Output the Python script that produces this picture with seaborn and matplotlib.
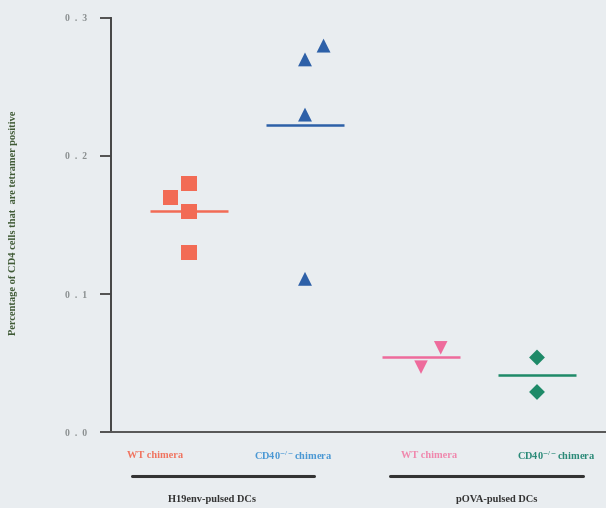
import numpy as np
import pandas as pd
import matplotlib
matplotlib.use("Agg")
import matplotlib.pyplot as plt
import seaborn as sns

# ---- data ----
conditions = ["WT chimera H19env", "CD40-/- chimera H19env", "WT chimera pOVA", "CD40-/- chimera pOVA"]
wt_h19 = [0.180, 0.170, 0.160, 0.130]
cd40_h19 = [0.280, 0.270, 0.230, 0.111]
wt_pova = [0.061, 0.047]
cd40_pova = [0.054, 0.029]
ytick_values = [0.0, 0.1, 0.2, 0.3]
ytick_labels = ["0  .  0", "0  .  1", "0  .  2", "0  .  3"]
cat_labels = ["WT chimera", r"CD40$^{-/-}$chimera", "WT chimera", r"CD40$^{-/-}$chimera"]
group_labels = ["H19env-pulsed DCs", "pOVA-pulsed DCs"]
ylabel = "Percentage of CD4 cells that  are tetramer positive"

# ---- layout / style ----
values = [wt_h19, cd40_h19, wt_pova, cd40_pova]
offsets = [[0.0, -0.16, 0.0, 0.0], [0.16, 0.0, 0.0, 0.0], [0.17, 0.0], [0.0, 0.0]]
markers = ["s", "^", "v", "D"]
sizes = [120, 100, 95, 65]
colors = ["#f26b55", "#2d60a8", "#ee6b9c", "#1e8a68"]
label_colors = ["#f07460", "#4a98d4", "#f087ad", "#2a8a78"]
bg = "#e9edf0"

rows = []
for i, (cond, vals, offs) in enumerate(zip(conditions, values, offsets)):
    for v, o in zip(vals, offs):
        rows.append({"condition": cond, "value": v, "xpos": i + o})
df = pd.DataFrame(rows)

sns.set_theme(style="ticks")
plt.rcParams["font.family"] = ["Liberation Serif", "DejaVu Serif"]
plt.rcParams["mathtext.fontset"] = "stix"

fig = plt.figure(figsize=(6.06, 5.08), dpi=100, facecolor=bg)
ax = fig.add_axes([111 / 606, 76 / 508, (606 - 111) / 606, 414 / 508])
ax.set_facecolor(bg)

for i, cond in enumerate(conditions):
    sub = df[df["condition"] == cond]
    sns.scatterplot(data=sub, x="xpos", y="value", marker=markers[i], s=sizes[i],
                    color=colors[i], edgecolor="none", ax=ax, legend=False, zorder=3)
    m = float(np.mean(values[i]))
    ax.hlines(m, i - 0.335, i + 0.335, color=colors[i], lw=1.8, zorder=2)

ax.set_xlim(-78 / 116, (606 - 189) / 116)
ax.set_ylim(0, 0.3)
ax.set_xticks([])
ax.set_yticks(ytick_values)
ax.set_yticklabels(ytick_labels, color="#8a8f90", fontsize=7, fontweight="bold")
ax.tick_params(axis="y", direction="out", length=8, width=1.3, color="#444444", pad=9)
ax.set_xlabel("")
ax.set_ylabel("")
for s in ["top", "right"]:
    ax.spines[s].set_visible(False)
ax.spines["left"].set_color("#444444")
ax.spines["left"].set_linewidth(1.4)
ax.spines["bottom"].set_color("#555555")
ax.spines["bottom"].set_linewidth(1.4)

fig.text(14 / 606, 1 - 223 / 508, ylabel, rotation=90, ha="center", va="center",
         fontsize=7.6, fontweight="bold", color="#3f5a35")

cat_px = [155, 293, 429, 556]
for lbl, px, c in zip(cat_labels, cat_px, label_colors):
    fig.text(px / 606, 1 - 456 / 508, lbl, ha="center", va="center",
             fontsize=7.5, fontweight="bold", color=c)

line_px = [(132, 314), (390, 583)]
for (x0, x1) in line_px:
    fig.add_artist(plt.Line2D([x0 / 606, x1 / 606], [1 - 476 / 508] * 2,
                              color="#333333", lw=2.2, transform=fig.transFigure))

group_px = [212, 497]
for lbl, px in zip(group_labels, group_px):
    fig.text(px / 606, 1 - 500 / 508, lbl, ha="center", va="center",
             fontsize=7.5, fontweight="bold", color="#333333")

fig.savefig("out.png", dpi=100, facecolor=bg)
